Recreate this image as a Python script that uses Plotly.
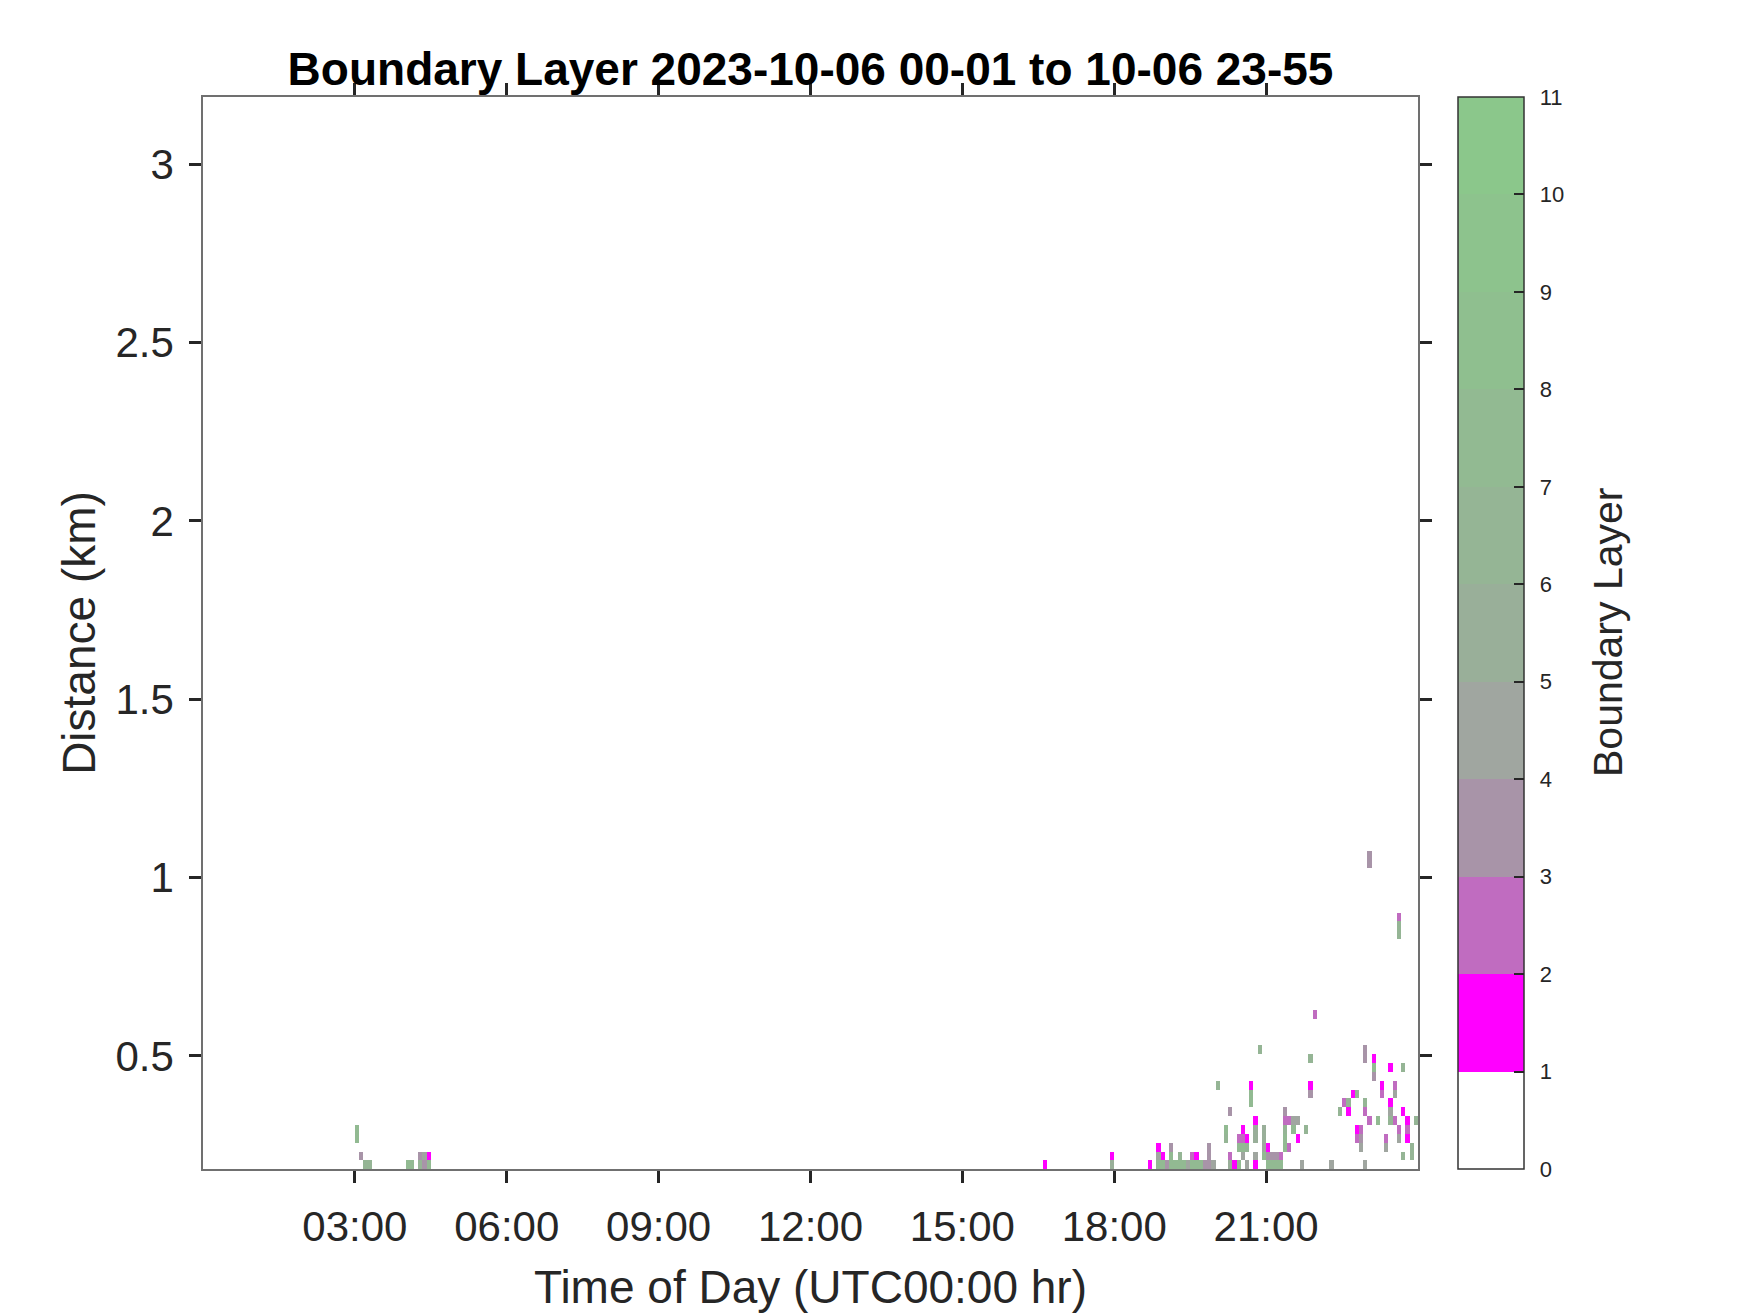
import numpy as np
import plotly.graph_objects as go

# chart text
title_text = "Boundary Layer 2023-10-06 00-01 to 10-06 23-55"
x_title = "Time of Day (UTC00:00 hr)"
y_title = "Distance (km)"
cbar_title = "Boundary Layer"

# colorbar classes (one colour per unit step, 0..11)
class_colors = ["#FFFFFF", "#FF00FF", "#C06CC0", "#A894A8", "#A0A6A0", "#99AF99",
                "#95B595", "#92BA92", "#8FBF8F", "#8DC38D", "#8BC78B"]
cbar_ticks = list(range(12))

x_tickvals = [3, 6, 9, 12, 15, 18, 21]
x_ticktext = ["03:00", "06:00", "09:00", "12:00", "15:00", "18:00", "21:00"]
y_tickvals = [0.5, 1, 1.5, 2, 2.5, 3]
y_ticktext = ["0.5", "1", "1.5", "2", "2.5", "3"]

# profile / range gate grid
profile_min = 5
n_profiles = 288
first_gate_km = 0.195
gate_km = 0.0248
n_gates = 40

# non-empty cells: profile start time, gate height (km), value
cell_time = [
    "03:00", "03:00", "03:05", "03:10", "03:15", "04:00", "04:05", "04:15", "04:15",
    "04:20", "04:20", "04:25", "04:25",
    "16:35", "17:55", "17:55", "18:40",
    "18:50", "18:50", "18:50", "18:55", "18:55", "19:00",
    "19:05", "19:05", "19:05", "19:10", "19:15", "19:15", "19:20", "19:25",
    "19:30", "19:30", "19:35", "19:35", "19:40", "19:45",
    "19:50", "19:50", "19:50", "19:55", "20:00", "20:10", "20:10",
    "20:15", "20:15", "20:15", "20:20",
    "20:25", "20:25", "20:25",
    "20:30", "20:30", "20:30", "20:30",
    "20:35", "20:35", "20:35",
    "20:40", "20:40", "20:40",
    "20:45", "20:45", "20:45", "20:45", "20:45",
    "20:50",
    "20:55", "20:55", "20:55", "20:55",
    "21:00", "21:00", "21:00", "21:05", "21:05", "21:10", "21:10", "21:15", "21:15",
    "21:20", "21:20", "21:20", "21:20", "21:20",
    "21:25", "21:25", "21:30", "21:30", "21:35", "21:35", "21:40", "21:45",
    "21:50", "21:50", "21:50", "21:55",
    "22:15", "22:25", "22:30", "22:35", "22:35", "22:40",
    "22:45", "22:45", "22:45", "22:50", "22:50", "22:50",
    "22:55", "22:55", "22:55", "22:55", "22:55",
    "23:00", "23:00", "23:00",
    "23:05", "23:05", "23:05", "23:10", "23:15", "23:15", "23:20", "23:20",
    "23:25", "23:25", "23:25", "23:25",
    "23:30", "23:30", "23:30",
    "23:35", "23:35", "23:35", "23:35", "23:35",
    "23:40", "23:40", "23:40",
    "23:45", "23:45", "23:45", "23:50", "23:50", "23:55",
]
cell_height = [
    0.270, 0.294, 0.220, 0.195, 0.195, 0.195, 0.195, 0.220, 0.195,
    0.195, 0.220, 0.220, 0.195,
    0.195, 0.220, 0.195, 0.195,
    0.195, 0.220, 0.245, 0.195, 0.220, 0.195,
    0.195, 0.220, 0.245, 0.195, 0.195, 0.220, 0.195, 0.195,
    0.195, 0.220, 0.195, 0.220, 0.195, 0.195,
    0.195, 0.220, 0.245, 0.195, 0.418, 0.270, 0.294,
    0.344, 0.220, 0.195, 0.195,
    0.195, 0.270, 0.245,
    0.294, 0.270, 0.245, 0.220,
    0.270, 0.245, 0.195,
    0.418, 0.394, 0.369,
    0.319, 0.294, 0.270, 0.220, 0.195,
    0.518,
    0.294, 0.270, 0.245, 0.220,
    0.245, 0.220, 0.195, 0.220, 0.195, 0.220, 0.195, 0.220, 0.195,
    0.344, 0.319, 0.294, 0.270, 0.245,
    0.319, 0.245, 0.319, 0.294, 0.319, 0.270, 0.195, 0.294,
    0.493, 0.418, 0.394, 0.617,
    0.195, 0.344, 0.369, 0.369, 0.344, 0.394,
    0.394, 0.294, 0.270, 0.294, 0.270, 0.245,
    0.195, 0.493, 0.518, 0.369, 0.344,
    0.319, 1.038, 1.063,
    0.493, 0.468, 0.443, 0.319, 0.418, 0.394, 0.270, 0.245,
    0.369, 0.344, 0.319, 0.468,
    0.418, 0.394, 0.319,
    0.294, 0.270, 0.890, 0.865, 0.840,
    0.468, 0.344, 0.220,
    0.319, 0.294, 0.270, 0.220, 0.245, 0.319,
]
cell_value = [
    7.5, 7.5, 3.5, 6.5, 6.5, 7.5, 7.5, 3.5, 6.5,
    3.5, 4.5, 1.5, 7.5,
    1.5, 1.5, 5.5, 1.5,
    7.5, 4.5, 1.5, 7.5, 1.5, 3.5,
    7.5, 7.5, 3.5, 7.5, 7.5, 6.5, 7.5, 4.5,
    7.5, 2.5, 7.5, 1.5, 7.5, 3.5,
    3.5, 3.5, 3.5, 4.5, 6.5, 6.5, 7.5,
    3.5, 2.5, 5.5, 1.5,
    7.5, 2.5, 7.5,
    1.5, 2.5, 7.5, 4.5,
    1.5, 6.5, 4.5,
    1.5, 7.5, 7.5,
    1.5, 5.5, 5.5, 4.5, 1.5,
    6.5,
    5.5, 5.5, 4.5, 7.5,
    1.5, 3.5, 7.5, 3.5, 7.5, 3.5, 7.5, 2.5, 7.5,
    3.5, 2.5, 6.5, 7.5, 7.5,
    2.5, 2.5, 4.5, 7.5, 4.5, 1.5, 4.5, 6.5,
    6.5, 1.5, 3.5, 2.5,
    4.5, 6.5, 2.5, 6.5, 1.5, 1.5,
    6.5, 1.5, 2.5, 2.5, 3.5, 4.5,
    4.5, 3.5, 3.5, 6.5, 2.5,
    2.5, 3.5, 3.5,
    1.5, 7.5, 3.5, 7.5, 1.5, 2.5, 2.5, 4.5,
    1.5, 4.5, 6.5, 1.5,
    2.5, 4.5, 2.5,
    2.5, 4.5, 2.5, 6.5, 6.5,
    6.5, 1.5, 6.5,
    1.5, 2.5, 1.5, 6.5, 6.5, 6.5,
]

# build the time x gate grid
x_hours = (np.arange(n_profiles) + 0.5) * profile_min / 60
y_km = first_gate_km + np.arange(n_gates) * gate_km
z = [[None] * n_profiles for _ in range(n_gates)]
for t, h, v in zip(cell_time, cell_height, cell_value):
    hh, mm = map(int, t.split(":"))
    i = (hh * 60 + mm) // profile_min
    k = int(round((h - first_gate_km) / gate_km))
    z[k][i] = v

# stepped colour scale
n_cls = len(class_colors)
colorscale = []
for b, c in enumerate(class_colors):
    colorscale.append([b / n_cls, c])
    colorscale.append([(b + 1) / n_cls, c])

font_family = "Arial, Liberation Sans, sans-serif"
ink = "#262626"

# colorbar placement (paper units) - page body adds an 8px offset,
# so the margins below are trimmed by that amount
plot_w = 1215
cb_x = 1.033
cb_px = 66
cb_right = cb_x + cb_px / plot_w

trace = go.Heatmap(
    x=x_hours, y=y_km, z=z,
    zmin=0, zmax=11, colorscale=colorscale, zsmooth=False,
    hoverongaps=False,
    colorbar=dict(
        x=cb_x, xanchor="left", xpad=0, y=0.5, yanchor="middle", ypad=0,
        len=1, lenmode="fraction", thickness=cb_px, thicknessmode="pixels",
        outlinecolor="#333333", outlinewidth=1.5,
        tickvals=cbar_ticks, ticks="outside", ticklen=11, tickwidth=1,
        tickcolor="rgba(0,0,0,0)",
        tickfont=dict(size=22, color=ink, family=font_family),
    ),
)

# empty helper whose bar sits on the right edge of the main colorbar,
# only to draw the short inward tick marks on top of it
tick_marks = go.Scatter(
    x=[None], y=[None], mode="markers", hoverinfo="skip", showlegend=False,
    marker=dict(
        color=[0], cmin=0, cmax=11, showscale=True,
        colorscale=[[0, "rgba(0,0,0,0)"], [1, "rgba(0,0,0,0)"]],
        colorbar=dict(
            x=cb_right - 11 / plot_w, xanchor="left", xpad=0,
            y=0.5, yanchor="middle", ypad=0, len=1, lenmode="fraction",
            thickness=1, thicknessmode="pixels", outlinewidth=0,
            tickvals=cbar_ticks[1:-1], ticks="outside", ticklen=10,
            tickwidth=1.5, tickcolor=ink, showticklabels=False,
        ),
    ),
)

axis_common = dict(
    showline=True, linecolor="#707070", linewidth=1.5, mirror="ticks",
    ticks="outside", ticklen=12, tickwidth=2.5, tickcolor=ink,
    showgrid=False, zeroline=False,
    tickfont=dict(size=42, color=ink, family=font_family),
)

layout = go.Layout(
    width=1750, height=1313,
    margin=dict(l=195, r=340, t=89, b=152),
    paper_bgcolor="white", plot_bgcolor="white",
    font=dict(family=font_family, color=ink),
    showlegend=False,
    title=dict(text=title_text, x=0.5, xref="paper", xanchor="center",
               y=1 - 61 / 1313, yref="container", yanchor="middle",
               font=dict(size=46, color="black", family=font_family, weight="bold")),
    xaxis=dict(axis_common, range=[0, 24], tickvals=x_tickvals, ticktext=x_ticktext,
               ticklabelstandoff=8,
               title=dict(text=x_title, standoff=22,
                          font=dict(size=46, color=ink, family=font_family))),
    yaxis=dict(axis_common, range=[0.183, 3.188], tickvals=y_tickvals, ticktext=y_ticktext,
               ticklabelstandoff=7,
               title=dict(text=y_title, standoff=5,
                          font=dict(size=46, color=ink, family=font_family))),
    annotations=[dict(text=cbar_title, textangle=-90, showarrow=False,
                      x=(1608 - 203) / plot_w, xref="paper", xanchor="center",
                      y=0.5, yref="paper", yanchor="middle",
                      font=dict(size=41, color=ink, family=font_family))],
)

fig = go.Figure(data=[trace, tick_marks], layout=layout)
fig.write_html("out.html")
